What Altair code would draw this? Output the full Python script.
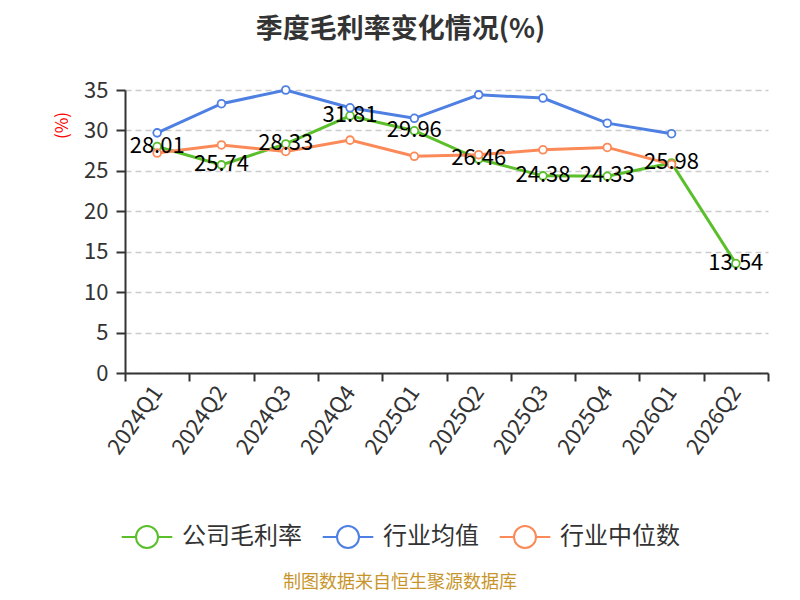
import altair as alt
import pandas as pd

quarters = ["2024Q1", "2024Q2", "2024Q3", "2024Q4", "2025Q1", "2025Q2", "2025Q3", "2025Q4", "2026Q1", "2026Q2"]
company = [28.01, 25.74, 28.33, 31.81, 29.96, 26.46, 24.38, 24.33, 25.98, 13.54]
industry_mean = [29.7, 33.3, 35.0, 32.8, 31.5, 34.4, 34.0, 30.9, 29.6, None]
industry_median = [27.2, 28.2, 27.4, 28.8, 26.8, 27.0, 27.6, 27.9, 25.8, None]
series_names = ["公司毛利率", "行业均值", "行业中位数"]
colors = ["#5bbf2b", "#4e7fe2", "#fb8a58"]

rows = []
for name, vals in zip(series_names, [company, industry_mean, industry_median]):
    for q, v in zip(quarters, vals):
        if v is not None:
            rows.append({"季度": q, "系列": name, "值": v})
df = pd.DataFrame(rows)
df_company = df[df["系列"] == "公司毛利率"].copy()
df_company["标签"] = df_company["值"].map(lambda v: f"{v:.2f}")

FONT = "Noto Sans CJK SC"

x_enc = alt.X("季度:N", sort=quarters, title=None,
              scale=alt.Scale(paddingInner=0, paddingOuter=0),
              axis=alt.Axis(labelAngle=-55, labelAlign="right", labelBaseline="middle",
                            labelFontSize=22, labelColor="#333", labelPadding=7,
                            domainColor="#333", domainWidth=2, tickColor="#333", tickWidth=2,
                            tickSize=8, tickBand="extent", grid=False, labelFont=FONT))
y_enc = alt.Y("值:Q", title="(%)",
              scale=alt.Scale(domain=[0, 35], nice=False),
              axis=alt.Axis(values=[0, 5, 10, 15, 20, 25, 30, 35], labelFontSize=22, labelColor="#333",
                            labelFont=FONT, labelPadding=8,
                            domainColor="#333", domainWidth=2, tickColor="#333", tickWidth=2, tickSize=9,
                            grid=True, gridDash=[6, 4], gridColor="#cccccc", gridWidth=1.5,
                            titleColor="#ff0000", titleFontSize=17, titleFontWeight="normal",
                            titleFont=FONT, titleX=-63, titleY=35, titleAngle=-90,
                            titleAlign="center", titleBaseline="middle"))
color_enc = alt.Color("系列:N", sort=series_names,
                      scale=alt.Scale(domain=series_names, range=colors),
                      legend=alt.Legend(title=None, orient="none", direction="horizontal",
                                        legendX=10, legendY=435,
                                        symbolType="M-2.3,0L-1,0M1,0L2.3,0M1,0A1,1,0,1,1,-1,0A1,1,0,1,1,1,0Z",
                                        symbolSize=484, symbolStrokeWidth=2, symbolFillColor="white",
                                        labelFontSize=24, labelColor="#333", labelFont=FONT,
                                        labelOffset=23, columnPadding=16))

lines = alt.Chart(df).mark_line(strokeWidth=3).encode(x=x_enc, y=y_enc, color=color_enc)
points = alt.Chart(df).mark_point(filled=False, fill="white", opacity=1, size=60, strokeWidth=1.8).encode(
    x=x_enc, y=y_enc, color=alt.Color("系列:N", sort=series_names,
                                      scale=alt.Scale(domain=series_names, range=colors), legend=None))
labels = alt.Chart(df_company).mark_text(fontSize=22, color="#000", baseline="middle", dy=-1, font=FONT).encode(
    x=x_enc, y=y_enc, text="标签:N")
footer = alt.Chart(pd.DataFrame({"t": ["制图数据来自恒生聚源数据库"]})).mark_text(
    fontSize=18, color="#c8952c", font=FONT, baseline="middle").encode(
    x=alt.value(275), y=alt.value(493), text="t:N")

chart = alt.layer(lines, points, labels, footer).properties(
    width=643, height=283,
    autosize=alt.AutoSizeParams(type="none"),
    padding={"left": 117, "top": 82, "right": 24, "bottom": 219},
    title=alt.TitleParams("季度毛利率变化情况(%)", anchor="middle", frame="group", dx=-46, offset=35,
                          fontSize=27, fontWeight="bold", color="#333", font=FONT),
).configure_view(stroke=None)

chart.save("out.html", embed_options={"renderer": "svg", "actions": False})
